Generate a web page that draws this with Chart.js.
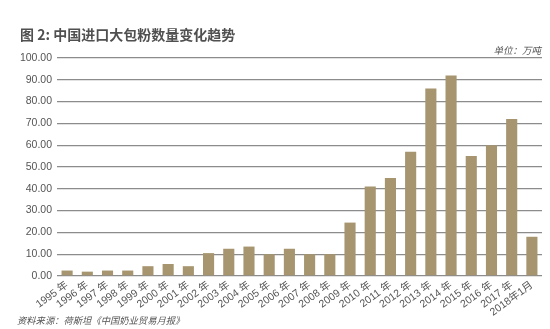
<!DOCTYPE html>
<html>
<head>
<meta charset="utf-8">
<script src="https://cdn.jsdelivr.net/npm/chart.js@4.4.1/dist/chart.umd.min.js"></script>
<style>
    html, body { margin: 0; padding: 0; background: #fff; }
    #wrap { position: relative; width: 550px; height: 329px; }
</style>
</head>
<body>
<div id="wrap"><canvas id="powderChart" width="550" height="329"></canvas></div>
<script>
    // 年份（横轴）
    const periods = ['1995 年', '1996 年', '1997 年', '1998 年', '1999 年', '2000 年', '2001 年', '2002 年',
        '2003 年', '2004 年', '2005 年', '2006 年', '2007 年', '2008 年', '2009 年', '2010 年',
        '2011 年', '2012 年', '2013 年', '2014 年', '2015 年', '2016 年', '2017 年', '2018年1月'];

    // 大包粉进口量，万吨
    const importVolume = [2.5, 2, 2.5, 2.5, 4.5, 5.5, 4.5, 10.5, 12.5, 13.5, 10, 12.5,
        10, 10, 24.5, 41, 45, 57, 86, 92, 55, 60, 72, 18];

    const yTicks = [0, 10, 20, 30, 40, 50, 60, 70, 80, 90, 100];

    const titleText = '图 2: 中国进口大包粉数量变化趋势';
    const unitText = '单位：万吨';
    const sourceText = '资料来源：荷斯坦《中国奶业贸易月报》';

    const baseFont = '"Liberation Sans", "Noto Sans CJK SC", sans-serif';

    // 标题、单位和资料来源直接画在画布上
    const captions = {
        id: 'captions',
        afterDraw(chart) {
            const ctx = chart.ctx;
            ctx.save();
            ctx.textBaseline = 'middle';

            ctx.fillStyle = '#505050';
            ctx.font = 'bold 14px "Noto Sans CJK SC", sans-serif';
            ctx.textAlign = 'left';
            ctx.fillText(titleText, 20, 35);

            ctx.fillStyle = '#555';
            ctx.font = 'italic 9.5px "Noto Sans CJK SC", sans-serif';
            ctx.textAlign = 'right';
            ctx.fillText(unitText, 541, 50.5);

            ctx.textAlign = 'left';
            ctx.font = 'italic 9.3px "Noto Sans CJK SC", sans-serif';
            ctx.fillText(sourceText, 17, 320);
            ctx.restore();
        }
    };

    const ctx = document.getElementById('powderChart').getContext('2d');
    new Chart(ctx, {
        type: 'bar',
        data: {
            labels: periods,
            datasets: [{
                data: importVolume,
                backgroundColor: '#a6956f',
                borderWidth: 0,
                categoryPercentage: 1,
                barPercentage: 0.55
            }]
        },
        options: {
            responsive: false,
            animation: false,
            layout: { padding: { top: 58, right: 8, bottom: 0, left: 0 } },
            plugins: {
                legend: { display: false },
                tooltip: { enabled: false }
            },
            scales: {
                x: {
                    grid: { display: false, drawTicks: false },
                    border: { display: false },
                    ticks: {
                        autoSkip: false,
                        minRotation: 36,
                        maxRotation: 36,
                        padding: 3,
                        color: '#555',
                        font: { family: baseFont, size: 10.5 }
                    },
                    afterFit(scale) { scale.height = 53; }
                },
                y: {
                    min: 0,
                    max: 100,
                    afterBuildTicks(scale) {
                        scale.ticks = yTicks.map(v => ({ value: v }));
                    },
                    grid: { color: '#8c8c8c', lineWidth: 1.3, drawTicks: false },
                    border: { display: false },
                    ticks: {
                        padding: 5,
                        color: '#555',
                        font: { family: baseFont, size: 10.5 },
                        callback: (v) => Number(v).toFixed(2)
                    },
                    afterFit(scale) { scale.width = 57; }
                }
            }
        },
        plugins: [captions]
    });
</script>
</body>
</html>
